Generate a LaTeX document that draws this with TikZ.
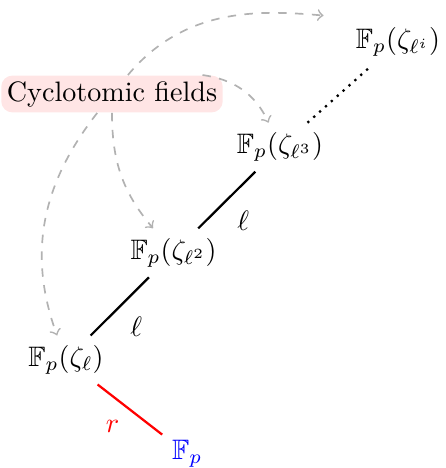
\documentclass[tikz,border=0pt]{standalone}
\usepackage{amsmath}
\usepackage{amssymb}
\usepackage{tikz}

\begin{document}
\begin{tikzpicture}[
    x=1cm,
    y=1cm,
    ext/.style={draw=black, thick},
    far/.style={draw=black, thick, dotted},
    base/.style={draw=red, thick},
    tag/.style={fill=red!10, rounded corners=4pt, inner sep=2pt},
    hint/.style={->, draw=gray!60, semithick, dashed}
  ]
    \useasboundingbox (0,0) rectangle (5.575,5.85);

    \node[text=blue] (Fp) at (2.34,0.175) {$\mathbb{F}_p$};
    \node (z1) at (0.825,1.35) {$\mathbb{F}_p(\zeta_{\ell})$};
    \node (z2) at (2.17,2.69) {$\mathbb{F}_p(\zeta_{\ell^2})$};
    \node (z3) at (3.5,4.01) {$\mathbb{F}_p(\zeta_{\ell^3})$};
    \node (zi) at (4.975,5.325) {$\mathbb{F}_p(\zeta_{\ell^i})$};
    \node[tag] (cyc) at (1.4,4.675) {Cyclotomic fields};

    \draw[base] (z1) -- node[midway, below left, text=red] {$r$} (Fp);
    \draw[ext] (z1) -- node[midway, below right] {$\ell$} (z2);
    \draw[ext] (z2) -- node[midway, below right] {$\ell$} (z3);
    \draw[far] (z3) -- (zi);

    \draw[hint, shorten >=8pt] (cyc) to[out=50, in=175] (zi.north west);
    \draw[hint] ([xshift=-0.26cm]cyc.north east) to[out=-8, in=115] (z3);
    \draw[hint] (cyc) to[out=-90, in=130] (z2);
    \draw[hint] (cyc) to[out=-128, in=110] (z1);
  \end{tikzpicture}
\end{document}
